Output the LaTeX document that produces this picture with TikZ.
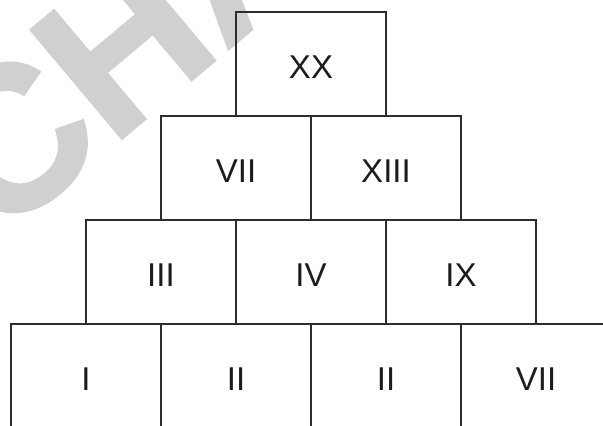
\documentclass[tikz,border=0pt]{standalone}
\usepackage{fontspec}
\setmainfont{Liberation Sans}
\newfontfamily\sellofont{Liberation Sans Bold}[FakeBold=1.6]
\usetikzlibrary{positioning}
\definecolor{GrisLinea}{RGB}{45,45,45}
\definecolor{GrisTexto}{RGB}{28,28,28}
\definecolor{GrisMarca}{RGB}{208,208,208}

\begin{document}
\begin{tikzpicture}[
  x=1pt, y=-1pt,
  ladrillo/.style={draw=GrisLinea, line width=1.1pt, text=GrisTexto, font=\fontsize{33}{33}\selectfont,
    minimum width=150pt, minimum height=104pt, inner sep=0pt, outer sep=0pt,
    text height=28pt, text depth=0pt},
  marca/.style={text=GrisMarca, font=\sellofont\fontsize{205}{205}\selectfont, inner sep=0pt,
    rotate=40, anchor=base west},
]
\useasboundingbox (0,0) rectangle (603,426);
\clip (0,0) rectangle (603,426);

% --- Marca de agua (debajo de todo) ---
\node[marca] (sello) at (-2,242) {CHA};

% --- Fila 1: la cima ---
\node[ladrillo, anchor=north west] (xx) at (236,12) {XX};

% --- Fila 2 ---
\node[ladrillo, anchor=north east] (vii) at (xx.south) {VII};
\node[ladrillo, right=0pt of vii] (xiii) {XIII};

% --- Fila 3 ---
\node[ladrillo, anchor=north east] (iii) at (vii.south) {III};
\node[ladrillo, right=0pt of iii] (iv) {IV};
\node[ladrillo, right=0pt of iv] (ix) {IX};

% --- Fila 4: la base ---
\node[ladrillo, anchor=north east] (i) at (iii.south) {I};
\node[ladrillo, right=0pt of i] (iia) {II};
\node[ladrillo, right=0pt of iia] (iib) {II};
\node[ladrillo, right=0pt of iib] (viib) {VII};

\end{tikzpicture}
\end{document}
